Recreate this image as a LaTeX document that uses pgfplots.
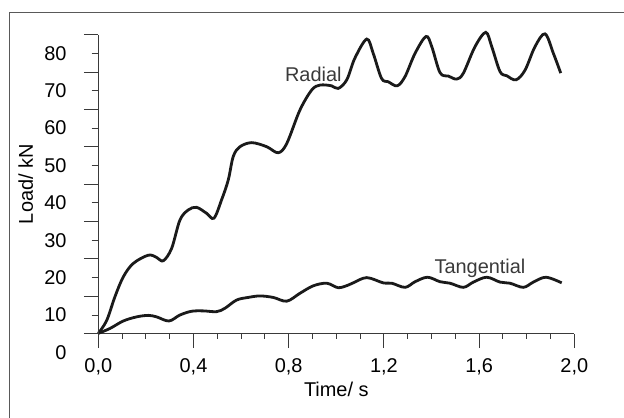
\documentclass[border=0pt]{standalone}
\usepackage{fontspec}
\setmainfont{Liberation Sans}
\usepackage{pgfplots}
\pgfplotsset{compat=1.18}

\definecolor{axisgray}{HTML}{3A3A3A}
\definecolor{curve}{HTML}{1A1A1A}

\pgfplotsset{
  commonaxis/.style={
    scale only axis,
    width=476bp, height=299.1bp,
    xmin=0, xmax=2, ymin=5, ymax=85,
    at={(98.3bp,84.3bp)}, anchor=south west,
    tick align=outside,
    axis line style={-, axisgray, line width=0.9bp},
    every tick/.style={axisgray, line width=0.9bp},
    font=\fontsize{20}{24}\selectfont,
    /pgf/number format/assume math mode=true,
    clip=false,
  }
}

\begin{document}
\begin{tikzpicture}
\useasboundingbox (0,0) rectangle (624bp,418bp);
\draw[gray!70!black, line width=1bp] (9bp,0) -- (9bp,405bp) -- (624bp,405bp);

% main axis: x axis, curves, long unlabeled y ticks
\begin{axis}[commonaxis,
  axis x line*=bottom, axis y line*=left,
  major tick length=14.5bp, minor tick length=5bp,
  xtick={0,0.4,...,2.01}, minor xtick={0.1,0.2,0.3,0.5,0.6,0.7,0.9,1.0,1.1,1.3,1.4,1.5,1.7,1.8,1.9},
  xticklabel style={anchor=north, inner sep=0pt, yshift=-10bp,
    /pgf/number format/.cd, use comma, fixed, fixed zerofill, precision=1},
  ytick={5,15,...,85}, yticklabels={},
  xlabel={Time/ s},
  xlabel style={at={([yshift=-63bp]axis description cs:0.5,0)}, anchor=base, inner sep=0pt},
  ylabel={Load/ kN},
  ylabel style={at={([xshift=-65.3bp]axis description cs:0,0.5)}, anchor=base, inner sep=0pt},
]
\addplot[curve, line width=2.8bp, smooth, tension=0.55] coordinates {
  (0,5.1) (0.035,8.5) (0.07,14.9) (0.105,20.2) (0.147,23.8) (0.21,26.0)
  (0.245,25.4) (0.273,24.5) (0.308,27.8) (0.343,35.4) (0.378,38.1) (0.413,38.8)
  (0.455,37.2) (0.486,35.9) (0.518,40.8) (0.546,46.1) (0.567,52.4) (0.595,55.0)
  (0.645,56.1) (0.708,55.0) (0.756,53.4) (0.792,55.9) (0.847,64.8) (0.897,70.2)
  (0.932,71.5) (0.98,71.3) (1.008,70.6) (1.044,72.9) (1.078,78.7) (1.128,83.8)
  (1.155,80.0) (1.19,73.3) (1.218,72.4) (1.256,71.3) (1.289,73.8) (1.331,80.0)
  (1.377,84.5) (1.401,81.8) (1.436,74.8) (1.471,73.9) (1.506,73.1) (1.534,74.7)
  (1.583,81.8) (1.628,85.6) (1.653,81.8) (1.688,75.1) (1.716,74.0) (1.755,72.9)
  (1.793,75.5) (1.835,81.8) (1.877,85.2) (1.912,80.0) (1.943,74.7)
};
\addplot[curve, line width=2.8bp, smooth, tension=0.55] coordinates {
  (0,5.1) (0.049,6.4) (0.105,8.4) (0.161,9.5) (0.21,9.9) (0.245,9.5)
  (0.297,8.4) (0.343,10.0) (0.392,11.0) (0.441,11.1) (0.497,10.9) (0.532,11.8)
  (0.581,14.0) (0.63,14.7) (0.679,15.1) (0.735,14.7) (0.792,13.7) (0.847,15.8)
  (0.903,17.8) (0.96,18.5) (1.008,17.3) (1.05,18.0) (1.071,18.6) (1.128,20.0)
  (1.197,18.6) (1.233,18.5) (1.289,17.4) (1.331,18.9) (1.383,20.1) (1.436,18.9)
  (1.478,18.5) (1.534,17.4) (1.576,18.8) (1.632,20.1) (1.688,18.8) (1.73,18.5)
  (1.786,17.4) (1.828,18.8) (1.881,20.1) (1.947,18.6)
};
\node[anchor=base west, inner sep=0pt, axisgray] at (axis cs:0.784,72.4) {Radial};
\node[anchor=base west, inner sep=0pt, axisgray] at (axis cs:1.412,21.16) {Tangential};
\node[anchor=east, inner sep=0pt] at (axis cs:0,0) [xshift=-31.6bp] {0};
\end{axis}

% overlay axis: labelled short y ticks
\begin{axis}[commonaxis,
  axis x line=none, axis y line*=left,
  major tick length=6.6bp,
  ytick={10,20,...,80},
  yticklabel style={anchor=east, inner sep=0pt, xshift=-25bp},
]
\end{axis}
\end{tikzpicture}
\end{document}
